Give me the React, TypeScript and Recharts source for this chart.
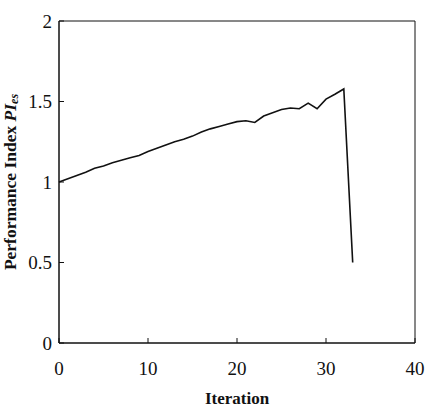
import { Line, LineChart, ReferenceArea, XAxis, YAxis } from 'recharts';

const ITERATIONS = Array.from({ length: 34 }, (_, i) => i);
const PI_ES = [
  1.0, 1.02, 1.04, 1.06, 1.085, 1.1, 1.12, 1.135, 1.15, 1.165,
  1.19, 1.21, 1.23, 1.25, 1.265, 1.285, 1.31, 1.33, 1.345, 1.36,
  1.375, 1.38, 1.37, 1.41, 1.43, 1.45, 1.46, 1.455, 1.49, 1.455,
  1.515, 1.545, 1.578, 0.5,
];
const X_TICKS = [0, 10, 20, 30, 40];
const Y_TICKS = [0, 0.5, 1, 1.5, 2];

const data = ITERATIONS.map((it, i) => ({ it, pi: PI_ES[i] }));

const FONT = '"Liberation Serif", "Times New Roman", serif';
const TICK = { fontSize: 19, fill: '#111', fontFamily: FONT };

function YLabel({ viewBox }: any) {
  // viewBox here is the axis box (left strip of the chart)
  const x = viewBox.x + 10;
  const y = viewBox.y + viewBox.height / 2;
  return (
    <text
      x={x}
      y={y}
      transform={`rotate(-90, ${x}, ${y})`}
      textAnchor="middle"
      dominantBaseline="central"
      fontFamily={FONT}
      fontSize={17.5}
      fontWeight="bold"
      fill="#111"
    >
      Performance Index{' '}
      <tspan fontStyle="italic">PI</tspan>
      <tspan fontStyle="italic" fontSize={12} dy={4}>es</tspan>
    </text>
  );
}

export default function App() {
  return (
    <div style={{ position: 'absolute', left: 0, top: 0, background: '#fff' }}>
      <LineChart width={429} height={408} data={data} margin={{ top: 21, right: 14, bottom: 0, left: 0 }}>
        <XAxis
          dataKey="it"
          type="number"
          domain={[0, 40]}
          ticks={X_TICKS}
          tick={TICK}
          height={65}
          tickSize={-5}
          tickMargin={24}
          stroke="#111"
          label={{ value: 'Iteration', position: 'insideBottom', offset: 0, dy: -4, fontFamily: FONT, fontSize: 17, fontWeight: 'bold', fill: '#111' }}
        />
        <YAxis
          type="number"
          domain={[0, 2]}
          ticks={Y_TICKS}
          tick={TICK}
          width={59}
          tickSize={-5}
          tickMargin={12}
          stroke="#111"
          label={<YLabel />}
        />
        <ReferenceArea x1={0} x2={40} y1={0} y2={2} fill="none" stroke="#111" strokeWidth={1} ifOverflow="visible" />
        <Line
          dataKey="pi"
          type="linear"
          stroke="#111"
          strokeWidth={1.6}
          dot={false}
          isAnimationActive={false}
        />
      </LineChart>
    </div>
  );
}
